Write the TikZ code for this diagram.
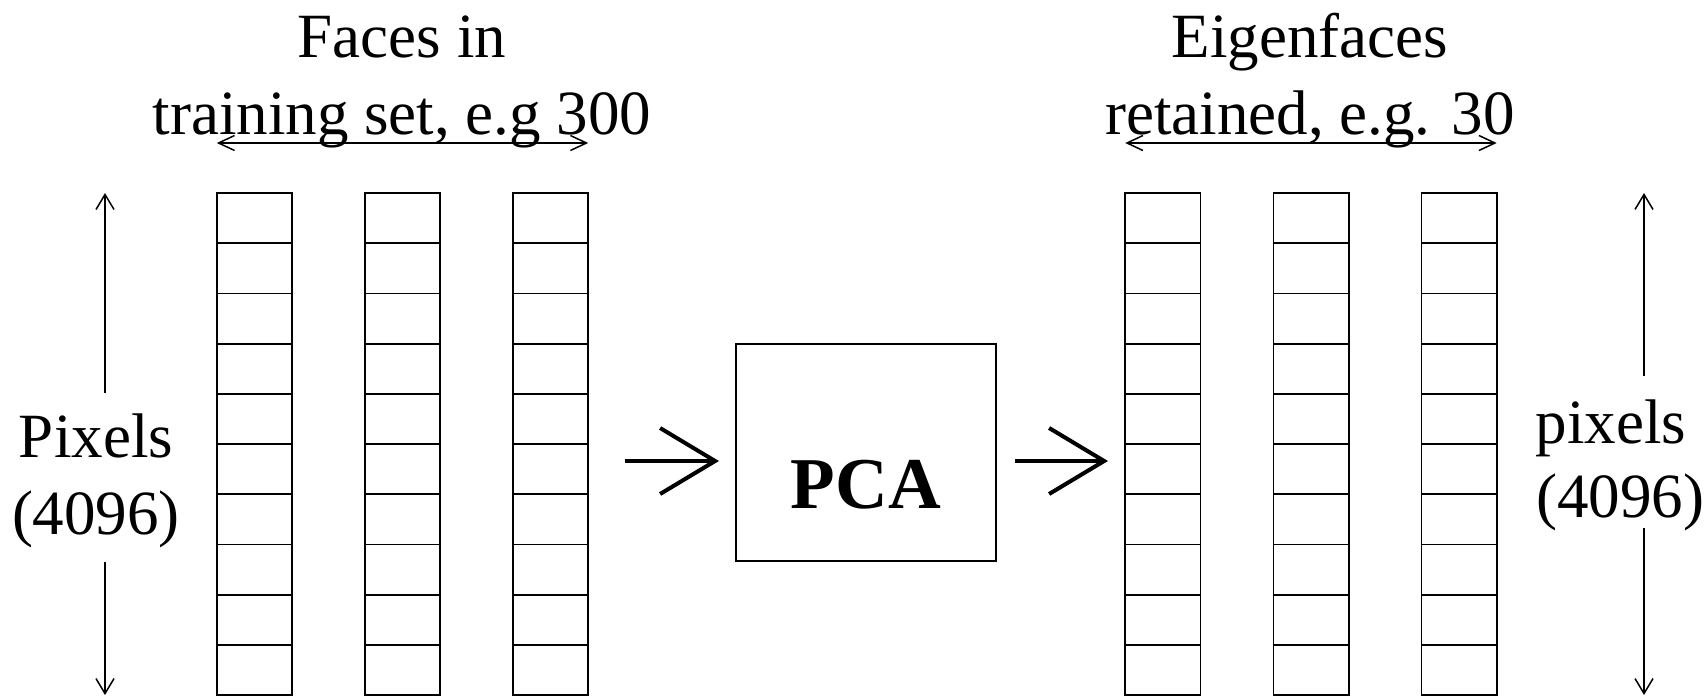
\documentclass[tikz,border=0pt]{standalone}
\usepackage{fontspec}
\setmainfont{Liberation Serif}
\usetikzlibrary{arrows.meta}
\begin{document}
\begin{tikzpicture}[x=1pt,y=-1pt,
  cell/.style={draw,line width=1.8pt,minimum width=75.2pt,minimum height=50.2pt,inner sep=0pt,outer sep=0pt,anchor=north west},
  lbl/.style={font=\fontsize{63}{75}\selectfont,anchor=base,inner sep=0pt},
  thinarrow/.style={line width=1.5pt,-{Straight Barb[length=15pt,width=18pt]}},
  dimarrow/.style={line width=1.5pt,{Straight Barb[length=16pt,width=15pt]}-{Straight Barb[length=16pt,width=15pt]}},
  bigarrow/.style={line width=4pt,-{Straight Barb[length=55pt,width=66pt]}},
  pcabox/.style={draw,line width=1.8pt,minimum width=259.6pt,minimum height=217pt,inner sep=0pt}]
\useasboundingbox (0,0) rectangle (1708,696);
\fill[white] (0,0) rectangle (1708,696);
% columns of cells
\foreach \c/\x in {a/216.8,b/364.9,c/513,d/1125.2,e/1273.4,f/1421.5}{
  \foreach \r in {1,...,10}{
    \node[cell] (\c\r) at (\x,{193+(\r-1)*50.2}) {};
  }
}
% top labels
\node[lbl] (t1) at (402,57) {Faces in};
\node[lbl] (t2) at (402,134) {training set, e.g 300};
\node[lbl] (t3) at (1310,57) {Eigenfaces};
\node[lbl] (t4) at (1310,134) {retained, e.g. 30};
% horizontal dimension arrows
\coordinate (dl1) at (216.8,143);
\coordinate (dr1) at (588.2,143);
\coordinate (dl2) at (1125.2,143);
\coordinate (dr2) at (1496.7,143);
\draw[dimarrow] (dl1) -- (dr1);
\draw[dimarrow] (dl2) -- (dr2);
% left pixels label
\node[lbl] (p1) at (96,457) {Pixels};
\node[lbl] (p2) at (96,534) {(4096)};
\coordinate (lt) at (105,193);
\coordinate (lu) at (105,393);
\coordinate (ld) at (105,562);
\coordinate (lb) at (105,695);
\draw[thinarrow] (lu) -- (lt);
\draw[thinarrow] (ld) -- (lb);
% right pixels label
\node[lbl] (q1) at (1611,443) {pixels};
\node[lbl] (q2) at (1620,517) {(4096)};
\coordinate (rt) at (1644,193);
\coordinate (ru) at (1644,376);
\coordinate (rd) at (1644,528);
\coordinate (rb) at (1644,695);
\draw[thinarrow] (ru) -- (rt);
\draw[thinarrow] (rd) -- (rb);
% PCA
\node[pcabox] (pca) at (866,452.5) {};
\node[font=\bfseries\fontsize{73}{86}\selectfont,anchor=base,inner sep=0pt] (pcat) at (866,508) {PCA};
\coordinate (a1s) at (625,461);
\coordinate (a1e) at (719,461);
\coordinate (a2s) at (1015,461);
\coordinate (a2e) at (1108,461);
\draw[bigarrow] (a1s) -- (a1e);
\draw[bigarrow] (a2s) -- (a2e);
\end{tikzpicture}
\end{document}
